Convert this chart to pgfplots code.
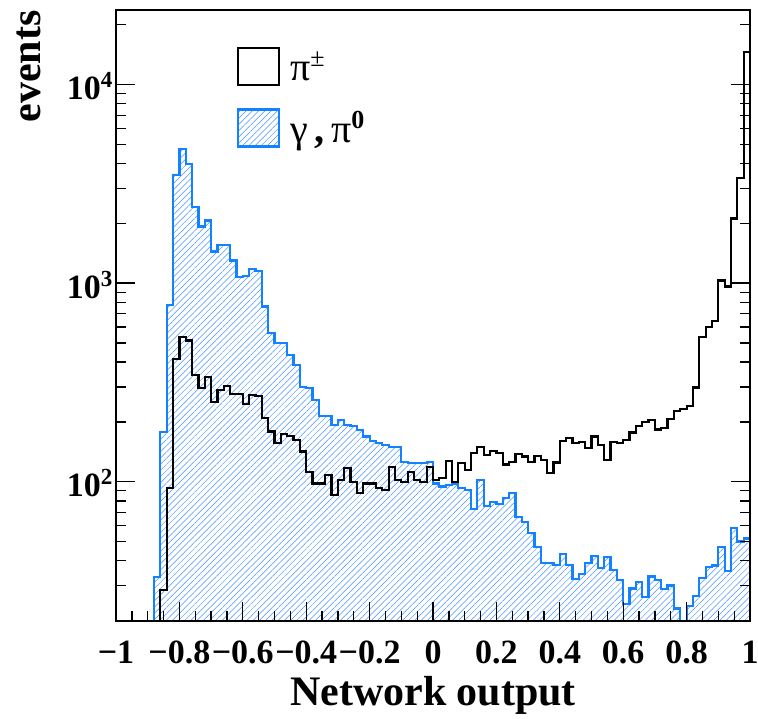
\documentclass[border=0pt]{standalone}
\usepackage{pgfplots}
\pgfplotsset{compat=1.18}
\usepackage{pgfplotstable}
\usepackage{fontspec}
\setmainfont{Liberation Serif}
\usetikzlibrary{patterns.meta}

\definecolor{azure}{RGB}{20,130,255}
\definecolor{hatchblue}{RGB}{70,145,255}

% Network output histograms, 100 bins of width 0.02; each row gives the
% lower bin edge and the bin content (1 marks an empty bin).
\pgfplotstableread{
x y
-1.00 1
-0.98 1
-0.96 1
-0.94 1
-0.92 1
-0.90 1
-0.88 1
-0.86 28.5
-0.84 93
-0.82 414
-0.80 535
-0.78 514
-0.76 345
-0.74 296
-0.72 336
-0.70 253
-0.68 290
-0.66 304
-0.64 277
-0.62 277
-0.60 246
-0.58 274
-0.56 270
-0.54 209
-0.52 179
-0.50 157
-0.48 174
-0.46 170
-0.44 162
-0.42 142
-0.40 112
-0.38 98
-0.36 98
-0.34 108
-0.32 86
-0.30 102
-0.28 117
-0.26 100
-0.24 88
-0.22 98
-0.20 98
-0.18 93
-0.16 91
-0.14 119
-0.12 102
-0.10 100
-0.08 112
-0.06 102
-0.04 100
-0.02 119
0.00 102
0.02 104
0.04 127
0.06 100
0.08 124
0.10 115
0.12 139
0.14 150
0.16 136
0.18 143
0.20 140
0.22 122
0.24 126
0.26 138
0.28 134
0.30 126
0.32 135
0.34 129
0.36 111
0.38 125
0.40 161
0.42 166
0.44 156
0.46 159
0.48 148
0.50 169
0.52 153
0.54 129
0.56 159
0.58 156
0.60 162
0.62 177
0.64 191
0.66 199
0.68 205
0.70 183
0.72 186
0.74 206
0.76 226
0.78 233
0.80 241
0.82 298
0.84 537
0.86 602
0.88 646
0.90 1030
0.92 960
0.94 2112
0.96 3365
0.98 14600
1.00 14600
}\chargedpions

\pgfplotstableread{
x y
-1.00 1
-0.98 1
-0.96 1
-0.94 1
-0.92 1
-0.90 1
-0.88 33
-0.86 178
-0.84 774
-0.82 3514
-0.80 4730
-0.78 3980
-0.76 2415
-0.74 1928
-0.72 2065
-0.70 1443
-0.68 1548
-0.66 1548
-0.64 1300
-0.62 1072
-0.60 1085
-0.58 1175
-0.56 1150
-0.54 762
-0.52 560
-0.50 499
-0.48 499
-0.46 435
-0.44 388
-0.42 301
-0.40 296
-0.38 258
-0.36 215
-0.34 215
-0.32 193
-0.30 205
-0.28 193
-0.26 190
-0.24 182
-0.22 169
-0.20 161
-0.18 157
-0.16 153
-0.14 150
-0.12 149
-0.10 126
-0.08 124
-0.06 124
-0.04 124
-0.02 126
0.00 98
0.02 94.5
0.04 96
0.06 98
0.08 93
0.10 91
0.12 73
0.14 102
0.16 75.5
0.18 79
0.20 77
0.22 83
0.24 88
0.26 66.7
0.28 62.5
0.30 55
0.32 47
0.34 38.8
0.36 39
0.38 38
0.40 43.2
0.42 38
0.44 32.5
0.46 34.2
0.48 38.9
0.50 42.4
0.52 36.7
0.54 41.7
0.56 36
0.58 32
0.60 24.2
0.62 29
0.64 31.4
0.66 26.2
0.68 33.3
0.70 32
0.72 28.7
0.74 30
0.76 23
0.78 15
0.80 23.6
0.82 26.7
0.84 32.8
0.86 37.2
0.88 37.9
0.90 46.7
0.92 35.6
0.94 58.6
0.96 50
0.98 51.8
1.00 51.8
}\photons

\begin{document}
\begin{tikzpicture}
\useasboundingbox (0,0) rectangle (758pt,718pt);
\begin{axis}[
  at={(116pt,97pt)}, anchor=south west,
  scale only axis, width=634pt, height=611pt,
  ymode=log,
  xmin=-1, xmax=1, ymin=19.9, ymax=23700,
  axis on top,
  axis line style={line width=1.5pt},
  every tick/.style={black, line width=1.3pt},
  tick align=inside,
  major tick length=19pt, minor tick length=10pt,
  xtick pos=lower, ytick pos=both,
  xtick={-1,-0.8,-0.6,-0.4,-0.2,0,0.2,0.4,0.6,0.8,1},
  xticklabels={−1,−0.8,−0.6,−0.4,−0.2,0,0.2,0.4,0.6,0.8,1},
  minor xtick={-0.95,-0.9,-0.85,-0.75,-0.7,-0.65,-0.55,-0.5,-0.45,-0.35,-0.3,-0.25,-0.15,-0.1,-0.05,0.05,0.1,0.15,0.25,0.3,0.35,0.45,0.5,0.55,0.65,0.7,0.75,0.85,0.9,0.95},
  ytick={100,1000,10000},
  yticklabels={10\raisebox{12pt}{\fontsize{23}{23}\selectfont 2},
               10\raisebox{12pt}{\fontsize{23}{23}\selectfont 3},
               10\raisebox{12pt}{\fontsize{23}{23}\selectfont 4}},
  minor ytick={30,40,50,60,70,80,90,200,300,400,500,600,700,800,900,2000,3000,4000,5000,6000,7000,8000,9000,20000},
  tick label style={font=\fontsize{34}{38}\selectfont\bfseries},
  xticklabel style={anchor=base, yshift=-43pt},
  yticklabel style={anchor=base east, yshift=-15pt},
  xlabel={Network output},
  ylabel={events},
  label style={font=\fontsize{42}{46}\selectfont\bfseries},
  xlabel style={at={(axis description cs:0.5,-0.1375)}, anchor=base},
  ylabel style={at={(axis description cs:-0.137,1.005)}, anchor=east},
  legend image code/.code={\draw[#1, line width=2.2pt] (0pt,-18.5pt) rectangle (41pt,18.5pt);},
  legend style={at={(axis description cs:0.1905,0.9395)}, anchor=north west,
    draw=none, fill=none, inner sep=0pt, row sep=22pt,
    font=\fontsize{40}{44}\selectfont},
  legend cell align=left,
]
\addlegendimage{draw=black}
\addlegendimage{draw=azure, pattern={Lines[angle=45,distance=4.4pt,line width=0.5pt]}, pattern color=hatchblue}

% gamma, pi0: hatched area, then its outline
\addplot[const plot, draw=none, forget plot,
  pattern={Lines[angle=45,distance=4.4pt,line width=0.5pt]}, pattern color=hatchblue]
  table[x=x, y=y]{\photons} \closedcycle;
\addplot[const plot, azure, line width=2.2pt, forget plot] table[x=x, y=y]{\photons};
% charged pions: outline only
\addplot[const plot, black, line width=2.2pt, forget plot] table[x=x, y=y]{\chargedpions};

\legend{\hspace{8pt}π\raisebox{14pt}{\fontsize{26}{26}\selectfont ±},
        \hspace{8pt}γ\,\textbf{,}\,π\raisebox{14pt}{\fontsize{26}{26}\selectfont\bfseries 0}}
\end{axis}
\end{tikzpicture}
\end{document}
